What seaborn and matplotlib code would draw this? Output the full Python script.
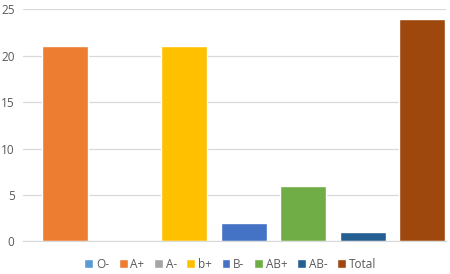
import matplotlib
matplotlib.use("Agg")
import matplotlib.pyplot as plt
import seaborn as sns
import pandas as pd

groups = ["O-", "A+", "A-", "b+", "B-", "AB+", "AB-", "Total"]
counts = [0, 21, 0, 21, 2, 6, 1, 24]
colors = ["#5B9BD5", "#ED7D31", "#A5A5A5", "#FFC000", "#4472C4", "#70AD47", "#255E91", "#9E480E"]

df = pd.DataFrame({"group": groups, "count": counts})

sns.set_style("white")
plt.rcParams["font.family"] = ["Open Sans", "DejaVu Sans"]

fig = plt.figure(figsize=(4.5, 2.74), dpi=100)
ax = fig.add_axes([0.051, 0.119, 0.94, 0.847])

sns.barplot(data=df, x="group", y="count", hue="group", order=groups,
            hue_order=groups, palette=colors, width=0.77, dodge=False,
            legend=True, ax=ax, saturation=1)

ax.set_ylim(0, 25)
ax.set_yticks([0, 5, 10, 15, 20, 25])
ax.set_xlim(0.29, 7.40)
ax.yaxis.grid(True, color="#D9D9D9", linewidth=0.9)
ax.set_axisbelow(True)
for s in ["top", "right", "left"]:
    ax.spines[s].set_visible(False)
ax.spines["bottom"].set_color("#D9D9D9")
ax.set_xticks([])
ax.set_xlabel("")
ax.set_ylabel("")
ax.tick_params(axis="y", length=0, labelsize=8.5, labelcolor="#595959", pad=6)

sns.move_legend(ax, "center", bbox_to_anchor=(0.49, -0.098), ncol=8,
                frameon=False, handlelength=0.75, handleheight=0.75,
                columnspacing=0.8, handletextpad=0.25, fontsize=8.5, title=None,
                borderpad=0)
for t in ax.get_legend().get_texts():
    t.set_color("#595959")

fig.savefig("out.png", dpi=100)
